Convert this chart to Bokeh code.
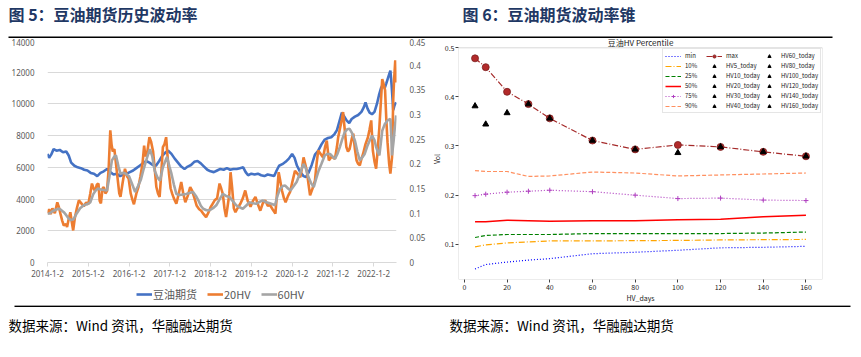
from bokeh.plotting import figure
from bokeh.models import (Range1d, LinearAxis, FixedTicker, NumeralTickFormatter,
                          Legend, LegendItem, Label, BoxAnnotation)
from bokeh.layouts import column, row
from bokeh.embed import file_html
from bokeh.resources import INLINE

# ---------------- data: figure 5 (history) ----------------
year_ticks = [2014, 2015, 2016, 2017, 2018, 2019, 2020, 2021, 2022]
year_labels = ["2014-1-2", "2015-1-2", "2016-1-2", "2017-1-2", "2018-1-2",
               "2019-1-2", "2020-1-2", "2021-1-2", "2022-1-2"]
price_ticks = [0, 2000, 4000, 6000, 8000, 10000, 12000, 14000]
hv_ticks = [0, 0.05, 0.1, 0.15, 0.2, 0.25, 0.3, 0.35, 0.4, 0.45]

price_t = [2014.00, 2014.04, 2014.09, 2014.15, 2014.22, 2014.30, 2014.38, 2014.46, 2014.52, 2014.58,
           2014.66, 2014.74, 2014.82, 2014.90, 2014.98, 2015.06, 2015.14, 2015.22, 2015.30, 2015.38,
           2015.46, 2015.54, 2015.62, 2015.70, 2015.78, 2015.86, 2015.94, 2016.02, 2016.10, 2016.18,
           2016.26, 2016.34, 2016.42, 2016.50, 2016.58, 2016.66, 2016.74, 2016.82, 2016.90, 2016.96,
           2017.04, 2017.12, 2017.20, 2017.28, 2017.36, 2017.44, 2017.52, 2017.60, 2017.68, 2017.76,
           2017.84, 2017.92, 2018.00, 2018.08, 2018.16, 2018.24, 2018.32, 2018.40, 2018.48, 2018.56,
           2018.64, 2018.72, 2018.80, 2018.86, 2018.92, 2019.00, 2019.08, 2019.16, 2019.24, 2019.32,
           2019.40, 2019.48, 2019.56, 2019.62, 2019.68, 2019.76, 2019.84, 2019.92, 2020.00, 2020.06,
           2020.12, 2020.20, 2020.28, 2020.34, 2020.40, 2020.48, 2020.56, 2020.64, 2020.72, 2020.80,
           2020.88, 2020.96, 2021.04, 2021.10, 2021.16, 2021.22, 2021.28, 2021.34, 2021.40, 2021.46,
           2021.54, 2021.62, 2021.70, 2021.76, 2021.80, 2021.85, 2021.90, 2021.96, 2022.02, 2022.08,
           2022.13, 2022.18, 2022.22, 2022.27, 2022.31, 2022.36, 2022.41, 2022.44, 2022.48, 2022.51,
           2022.55]
price_v = [6850, 6600, 6800, 7150, 7050, 7100, 6950, 7000, 6750, 6300,
           6100, 6000, 5950, 5850, 5800, 5650, 5600, 5450, 5650, 5750,
           5900, 5700, 5550, 5600, 5450, 5550, 5600, 5700, 5800, 5950,
           6100, 6250, 6400, 6300, 6150, 6100, 6400, 6750, 6950, 7050,
           6850, 6550, 6300, 6050, 5900, 6050, 6150, 6350, 6400, 6250,
           6050, 5850, 5750, 5700, 5800, 5900, 5850, 5950, 5850, 5900,
           5900, 5950, 6000, 5700, 5500, 5600, 5550, 5600, 5500, 5450,
           5550, 5500, 5450, 5800, 6100, 6200, 6350, 6550, 6850, 6600,
           6100, 5700, 5450, 5380, 5650, 6150, 6800, 7050, 7450, 7750,
           7850, 7900, 8100, 8350, 8900, 9450, 9200, 8950, 8800, 9050,
           9200, 9300, 9500, 9800, 10100, 9700, 9450, 9350, 9500, 10000,
           10550, 11000, 11200, 11000, 11300, 11700, 12100, 11200, 9600, 9900,
           10100]

hv20_t = [2014.00, 2014.04, 2014.08, 2014.12, 2014.18, 2014.24, 2014.28, 2014.32, 2014.36, 2014.40,
          2014.45, 2014.48, 2014.52, 2014.56, 2014.60, 2014.63, 2014.67, 2014.72, 2014.77, 2014.83,
          2014.89, 2014.95, 2015.00, 2015.05, 2015.09, 2015.13, 2015.17, 2015.21, 2015.25, 2015.28,
          2015.31, 2015.35, 2015.38, 2015.42, 2015.46, 2015.50, 2015.54, 2015.57, 2015.60, 2015.64,
          2015.68, 2015.72, 2015.76, 2015.79, 2015.84, 2015.90, 2015.95, 2015.99, 2016.04, 2016.08,
          2016.12, 2016.18, 2016.23, 2016.28, 2016.33, 2016.37, 2016.40, 2016.45, 2016.50, 2016.54,
          2016.59, 2016.63, 2016.67, 2016.71, 2016.75, 2016.79, 2016.83, 2016.87, 2016.91, 2016.94,
          2016.98, 2017.02, 2017.06, 2017.10, 2017.16, 2017.22, 2017.28, 2017.33, 2017.38, 2017.44,
          2017.50, 2017.55, 2017.61, 2017.66, 2017.72, 2017.77, 2017.83, 2017.89, 2017.94, 2018.00,
          2018.05, 2018.10, 2018.16, 2018.22, 2018.26, 2018.30, 2018.34, 2018.38, 2018.42, 2018.46,
          2018.49, 2018.53, 2018.57, 2018.61, 2018.66, 2018.73, 2018.79, 2018.85, 2018.91, 2018.98,
          2019.04, 2019.10, 2019.16, 2019.22, 2019.28, 2019.34, 2019.40, 2019.46, 2019.52, 2019.59,
          2019.63, 2019.67, 2019.71, 2019.75, 2019.80, 2019.84, 2019.90, 2019.95, 2020.01, 2020.07,
          2020.13, 2020.20, 2020.25, 2020.28, 2020.32, 2020.36, 2020.40, 2020.44, 2020.50, 2020.56,
          2020.60, 2020.64, 2020.70, 2020.76, 2020.81, 2020.85, 2020.90, 2020.97, 2021.05, 2021.10,
          2021.13, 2021.18, 2021.22, 2021.25, 2021.29, 2021.33, 2021.37, 2021.41, 2021.46, 2021.50,
          2021.54, 2021.58, 2021.62, 2021.66, 2021.70, 2021.74, 2021.80, 2021.86, 2021.90, 2021.94,
          2021.98, 2022.02, 2022.06, 2022.10, 2022.14, 2022.18, 2022.21, 2022.25, 2022.28, 2022.31,
          2022.34, 2022.38, 2022.41, 2022.45, 2022.48, 2022.50, 2022.53, 2022.55]
hv20_v = [0.100, 0.108, 0.098, 0.110, 0.100, 0.122, 0.112, 0.098, 0.085, 0.075,
          0.078, 0.072, 0.088, 0.102, 0.080, 0.065, 0.090, 0.110, 0.126, 0.120,
          0.114, 0.122, 0.118, 0.140, 0.160, 0.150, 0.145, 0.158, 0.160, 0.125,
          0.120, 0.150, 0.153, 0.140, 0.145, 0.190, 0.268, 0.240, 0.225, 0.230,
          0.200, 0.170, 0.140, 0.133, 0.160, 0.190, 0.175, 0.170, 0.140, 0.128,
          0.118, 0.140, 0.153, 0.175, 0.200, 0.237, 0.215, 0.225, 0.254, 0.245,
          0.225, 0.190, 0.153, 0.140, 0.133, 0.180, 0.234, 0.240, 0.254, 0.220,
          0.180, 0.150, 0.139, 0.130, 0.119, 0.140, 0.163, 0.140, 0.122, 0.135,
          0.153, 0.145, 0.129, 0.115, 0.108, 0.105, 0.098, 0.092, 0.100, 0.112,
          0.119, 0.126, 0.130, 0.160, 0.150, 0.139, 0.110, 0.092, 0.115, 0.139,
          0.183, 0.150, 0.110, 0.102, 0.110, 0.119, 0.130, 0.146, 0.125, 0.113,
          0.125, 0.133, 0.118, 0.105, 0.120, 0.126, 0.115, 0.116, 0.108, 0.099,
          0.140, 0.183, 0.165, 0.146, 0.130, 0.122, 0.135, 0.143, 0.165, 0.186,
          0.180, 0.173, 0.195, 0.213, 0.200, 0.186, 0.160, 0.136, 0.150, 0.166,
          0.200, 0.227, 0.220, 0.213, 0.235, 0.247, 0.207, 0.215, 0.210, 0.235,
          0.254, 0.274, 0.290, 0.305, 0.270, 0.234, 0.225, 0.230, 0.250, 0.261,
          0.230, 0.207, 0.200, 0.197, 0.210, 0.220, 0.240, 0.254, 0.270, 0.288,
          0.227, 0.205, 0.190, 0.230, 0.274, 0.330, 0.372, 0.360, 0.349, 0.290,
          0.244, 0.200, 0.180, 0.213, 0.330, 0.369, 0.410, 0.365]

hv60_t = [2014.00, 2014.06, 2014.12, 2014.20, 2014.28, 2014.34, 2014.40, 2014.46, 2014.52, 2014.58,
          2014.64, 2014.72, 2014.80, 2014.89, 2014.97, 2015.05, 2015.12, 2015.18, 2015.24, 2015.30,
          2015.38, 2015.46, 2015.52, 2015.58, 2015.64, 2015.68, 2015.74, 2015.79, 2015.86, 2015.92,
          2016.00, 2016.07, 2016.15, 2016.22, 2016.29, 2016.36, 2016.44, 2016.51, 2016.57, 2016.63,
          2016.70, 2016.76, 2016.83, 2016.93, 2016.99, 2017.04, 2017.10, 2017.16, 2017.24, 2017.32,
          2017.40, 2017.48, 2017.57, 2017.64, 2017.70, 2017.76, 2017.82, 2017.90, 2017.98, 2018.06,
          2018.14, 2018.22, 2018.30, 2018.38, 2018.46, 2018.54, 2018.63, 2018.71, 2018.79, 2018.87,
          2018.95, 2019.04, 2019.12, 2019.20, 2019.28, 2019.37, 2019.45, 2019.52, 2019.58, 2019.64,
          2019.70, 2019.77, 2019.83, 2019.90, 2019.96, 2020.04, 2020.11, 2020.19, 2020.28, 2020.34,
          2020.40, 2020.47, 2020.53, 2020.59, 2020.65, 2020.72, 2020.80, 2020.87, 2020.93, 2020.99,
          2021.05, 2021.11, 2021.17, 2021.23, 2021.29, 2021.35, 2021.41, 2021.47, 2021.54, 2021.60,
          2021.66, 2021.72, 2021.78, 2021.84, 2021.90, 2021.96, 2022.02, 2022.06, 2022.10, 2022.14,
          2022.18, 2022.21, 2022.27, 2022.34, 2022.41, 2022.43, 2022.45, 2022.49, 2022.52, 2022.55]
hv60_v = [0.099, 0.100, 0.104, 0.107, 0.109, 0.106, 0.102, 0.096, 0.089, 0.086,
          0.088, 0.100, 0.110, 0.116, 0.118, 0.122, 0.138, 0.146, 0.150, 0.148,
          0.147, 0.146, 0.175, 0.207, 0.215, 0.217, 0.195, 0.180, 0.182, 0.180,
          0.175, 0.160, 0.143, 0.155, 0.168, 0.190, 0.212, 0.230, 0.215, 0.186,
          0.172, 0.166, 0.193, 0.214, 0.195, 0.180, 0.158, 0.139, 0.137, 0.138,
          0.139, 0.141, 0.143, 0.135, 0.126, 0.115, 0.109, 0.106, 0.106, 0.110,
          0.116, 0.128, 0.139, 0.135, 0.133, 0.125, 0.116, 0.112, 0.109, 0.115,
          0.122, 0.120, 0.119, 0.123, 0.126, 0.122, 0.120, 0.118, 0.116, 0.135,
          0.149, 0.155, 0.156, 0.150, 0.146, 0.155, 0.163, 0.180, 0.200, 0.190,
          0.173, 0.160, 0.153, 0.170, 0.186, 0.200, 0.217, 0.220, 0.220, 0.215,
          0.210, 0.220, 0.234, 0.250, 0.264, 0.270, 0.271, 0.262, 0.247, 0.225,
          0.207, 0.213, 0.220, 0.235, 0.247, 0.257, 0.248, 0.234, 0.225, 0.217,
          0.245, 0.267, 0.280, 0.288, 0.291, 0.260, 0.217, 0.247, 0.275, 0.298]

# ---------------- data: figure 6 (volatility cone) ----------------
hv_days = [5, 10, 20, 30, 40, 60, 80, 100, 120, 140, 160]
cone_min = [0.050, 0.059, 0.064, 0.068, 0.071, 0.081, 0.084, 0.088, 0.093, 0.094, 0.096]
cone_p10 = [0.095, 0.099, 0.103, 0.105, 0.107, 0.107, 0.1075, 0.108, 0.109, 0.1095, 0.110]
cone_p25 = [0.114, 0.118, 0.120, 0.120, 0.120, 0.122, 0.122, 0.122, 0.122, 0.123, 0.125]
cone_p50 = [0.146, 0.146, 0.149, 0.148, 0.147, 0.148, 0.148, 0.150, 0.151, 0.156, 0.159]
cone_p75 = [0.199, 0.202, 0.206, 0.208, 0.210, 0.207, 0.200, 0.193, 0.194, 0.190, 0.189]
cone_p90 = [0.250, 0.248, 0.248, 0.238, 0.239, 0.247, 0.245, 0.239, 0.241, 0.243, 0.245]
cone_max = [0.478, 0.460, 0.410, 0.385, 0.356, 0.311, 0.293, 0.302, 0.298, 0.288, 0.279]
hv_today = [0.381, 0.344, 0.367, 0.385, 0.356, 0.311, 0.293, 0.286, 0.298, 0.288, 0.279]
day_ticks = [0, 20, 40, 60, 80, 100, 120, 140, 160]
vol_ticks = [0.1, 0.2, 0.3, 0.4, 0.5]

CJK = "Noto Sans CJK SC"
TITLE_COLOR = "#1f3864"
SOURCE = "数据来源：Wind 资讯，华融融达期货"
C_PRICE, C_HV20, C_HV60 = "#4472C4", "#ED7D31", "#A5A5A5"
# matplotlib axes box of the cone chart (data limits)
CONE_X0, CONE_X1 = -2.75, 167.75
CONE_Y0, CONE_Y1 = 0.0286, 0.4994


def blank(width, height):
    f = figure(width=width, height=height, x_range=Range1d(0, width), y_range=Range1d(height, 0),
               output_backend="svg", toolbar_location=None, min_border=0,
               x_axis_type=None, y_axis_type=None)
    f.grid.visible = False
    f.outline_line_color = None
    f.background_fill_color = "white"
    f.border_fill_color = "white"
    return f


def rule(f, x0, x1, y0, y1):
    f.add_layout(BoxAnnotation(left=x0, right=x1, top=y0, bottom=y1, fill_color="black",
                               fill_alpha=1, line_color=None))


# ---------------- header ----------------
header = blank(861, 38)
header.add_layout(Label(x=8, y=13, text="图 5：豆油期货历史波动率", text_font=CJK,
                        text_font_style="bold", text_font_size="16px", text_color=TITLE_COLOR,
                        text_baseline="middle"))
header.add_layout(Label(x=462, y=13, text="图 6：豆油期货波动率锥", text_font=CJK,
                        text_font_style="bold", text_font_size="16px", text_color=TITLE_COLOR,
                        text_baseline="middle"))
rule(header, 8, 832, 36, 37.6)

# ---------------- left chart ----------------
left = figure(width=428, height=244, x_range=Range1d(2014.0, 2022.56), y_range=Range1d(0, 14000),
              output_backend="svg", toolbar_location=None,
              min_border_left=47, min_border_right=30, min_border_top=2, min_border_bottom=20)
left.outline_line_color = None
left.xgrid.visible = False
left.ygrid.grid_line_color = "#d9d9d9"
left.ygrid.ticker = FixedTicker(ticks=price_ticks)
left.extra_y_ranges = {"hv": Range1d(0, 0.45)}

xa = left.xaxis[0]
xa.ticker = FixedTicker(ticks=year_ticks)
xa.major_label_overrides = {t: lab for t, lab in zip(year_ticks, year_labels)}
xa.axis_line_color = "#d9d9d9"
xa.major_tick_line_color = "#d9d9d9"
xa.major_tick_out = 4
xa.major_tick_in = 0
xa.minor_tick_line_color = None
xa.major_label_standoff = 3
xa.major_label_text_font = "Noto Sans"
xa.major_label_text_font_size = "8px"
xa.major_label_text_color = "#595959"

ya = left.yaxis[0]
ya.ticker = FixedTicker(ticks=price_ticks)
ya.axis_line_color = None
ya.major_tick_line_color = None
ya.minor_tick_line_color = None
ya.major_label_standoff = 7
ya.major_label_text_font = "Noto Sans"
ya.major_label_text_font_size = "8px"
ya.major_label_text_color = "#595959"

ra = LinearAxis(y_range_name="hv", ticker=FixedTicker(ticks=hv_ticks),
                formatter=NumeralTickFormatter(format="0.[00]"))
ra.axis_line_color = None
ra.major_tick_line_color = None
ra.minor_tick_line_color = None
ra.major_label_standoff = 7
ra.major_label_text_font = "Noto Sans"
ra.major_label_text_font_size = "8px"
ra.major_label_text_color = "#595959"
left.add_layout(ra, "right")

left.line(price_t, price_v, line_color=C_PRICE, line_width=2.6)
left.line(hv20_t, hv20_v, y_range_name="hv", line_color=C_HV20, line_width=2.6)
left.line(hv60_t, hv60_v, y_range_name="hv", line_color=C_HV60, line_width=2.6)

# ---------------- legend strip under the left chart ----------------
# same series drawn again, entirely outside this strip's ranges, only to feed the legend
leg_fig = figure(width=428, height=23, x_range=Range1d(0, 1), y_range=Range1d(0, 1),
                 output_backend="svg", toolbar_location=None, x_axis_type=None, y_axis_type=None,
                 min_border_left=47, min_border_right=30, min_border_top=0, min_border_bottom=0)
leg_fig.grid.visible = False
leg_fig.outline_line_color = None
k_price = leg_fig.line(price_t, price_v, line_color=C_PRICE, line_width=2.6)
k_hv20 = leg_fig.line(hv20_t, hv20_v, line_color=C_HV20, line_width=2.6)
k_hv60 = leg_fig.line(hv60_t, hv60_v, line_color=C_HV60, line_width=2.6)
leg_fig.add_layout(Legend(items=[LegendItem(label="豆油期货", renderers=[k_price]),
                                 LegendItem(label="20HV", renderers=[k_hv20]),
                                 LegendItem(label="60HV", renderers=[k_hv60])],
                          orientation="horizontal", location=(89, 3),
                          label_text_font=CJK, label_text_font_size="11px",
                          label_text_color="#595959", glyph_width=16, glyph_height=12,
                          label_height=12, label_standoff=1, spacing=10, padding=0, margin=0,
                          border_line_color=None, background_fill_alpha=0))

# ---------------- right chart ----------------
rp = figure(width=433, height=267, x_range=Range1d(CONE_X0, CONE_X1), y_range=Range1d(CONE_Y0, 0.5183),
            output_backend="svg", toolbar_location=None,
            min_border_left=24, min_border_right=39, min_border_top=0, min_border_bottom=26)
rp.grid.visible = False
rp.outline_line_color = None
rp.add_layout(BoxAnnotation(left=CONE_X0, right=CONE_X1, bottom=CONE_Y0, top=CONE_Y1,
                            fill_alpha=0, line_color="#808080", line_width=1))

for ax in (rp.xaxis[0], rp.yaxis[0]):
    ax.axis_line_color = None
    ax.major_tick_line_color = "#444444"
    ax.major_tick_out = 3
    ax.major_tick_in = 0
    ax.minor_tick_line_color = None
    ax.major_label_standoff = 1
    ax.major_label_text_font = CJK
    ax.major_label_text_font_size = "7px"
    ax.major_label_text_color = "#222222"
    ax.axis_label_text_font = CJK
    ax.axis_label_text_font_size = "7px"
    ax.axis_label_text_font_style = "normal"
    ax.axis_label_text_color = "#222222"
    ax.axis_label_standoff = 0
rp.xaxis[0].ticker = FixedTicker(ticks=day_ticks)
rp.yaxis[0].ticker = FixedTicker(ticks=vol_ticks)
rp.yaxis[0].formatter = NumeralTickFormatter(format="0.0")
rp.xaxis[0].axis_label = "HV_days"
rp.yaxis[0].axis_label = "Vol"

r_min = rp.line(hv_days, cone_min, line_color="blue", line_width=1.2, line_dash="1 2")
r_p10 = rp.line(hv_days, cone_p10, line_color="#ffa500", line_width=1.2, line_dash="6 2 1 2")
r_p25 = rp.line(hv_days, cone_p25, line_color="#008000", line_width=1.2, line_dash="4 2")
r_p50 = rp.line(hv_days, cone_p50, line_color="#ff0000", line_width=1.5)
r_p75 = rp.line(hv_days, cone_p75, line_color="#b040c0", line_width=1.2, line_dash="1 2")
r_p75m = rp.scatter(hv_days, cone_p75, marker="cross", size=5, line_color="#b040c0", line_width=1)
r_p90 = rp.line(hv_days, cone_p90, line_color="#ff9060", line_width=1.2, line_dash="4 2")
r_max = rp.line(hv_days, cone_max, line_color="#a52a2a", line_width=1.2, line_dash="6 2 1 2")
r_maxm = rp.scatter(hv_days, cone_max, marker="circle", size=7, fill_color="#b22a2a",
                    line_color="#7a1f1f", line_width=0.8)

today_items = []
for d, v in zip(hv_days, hv_today):
    r = rp.scatter([d], [v], marker="triangle", size=6, fill_color="black", line_color="black")
    today_items.append(LegendItem(label=f"HV{d}_today", renderers=[r]))

items = [LegendItem(label="min", renderers=[r_min]),
         LegendItem(label="10%", renderers=[r_p10]),
         LegendItem(label="25%", renderers=[r_p25]),
         LegendItem(label="50%", renderers=[r_p50]),
         LegendItem(label="75%", renderers=[r_p75, r_p75m]),
         LegendItem(label="90%", renderers=[r_p90]),
         LegendItem(label="max", renderers=[r_max, r_maxm])] + today_items

rp.add_layout(Legend(items=items, location=(204, 166), orientation="vertical", nrows=6,
                     label_text_font=CJK, label_text_font_size="6px", label_text_color="#222222",
                     label_text_line_height=1.0,
                     glyph_width=16, glyph_height=8, label_height=8, label_standoff=4, spacing=1,
                     padding=2, margin=0, border_line_color="#cccccc", border_line_width=1,
                     background_fill_color="white", background_fill_alpha=0.8))

rp.add_layout(Label(x=(CONE_X0 + CONE_X1) / 2, y=CONE_Y1, y_offset=5, text="豆油HV Percentile",
                    text_font=CJK, text_font_size="8px", text_color="#222222",
                    text_align="center", text_baseline="middle"))

# ---------------- footer ----------------
footer = blank(861, 52)
rule(footer, 14, 850, -0.2, 1.4)
for fx in (8, 449):
    footer.add_layout(Label(x=fx, y=19, text=SOURCE, text_font=CJK, text_font_size="13.5px",
                            text_color="black", text_baseline="middle"))

page = column(header,
              row(column(left, leg_fig, spacing=0), column(rp, spacing=0), spacing=0),
              footer, spacing=0)
open("out.html", "w").write(file_html(page, INLINE))
